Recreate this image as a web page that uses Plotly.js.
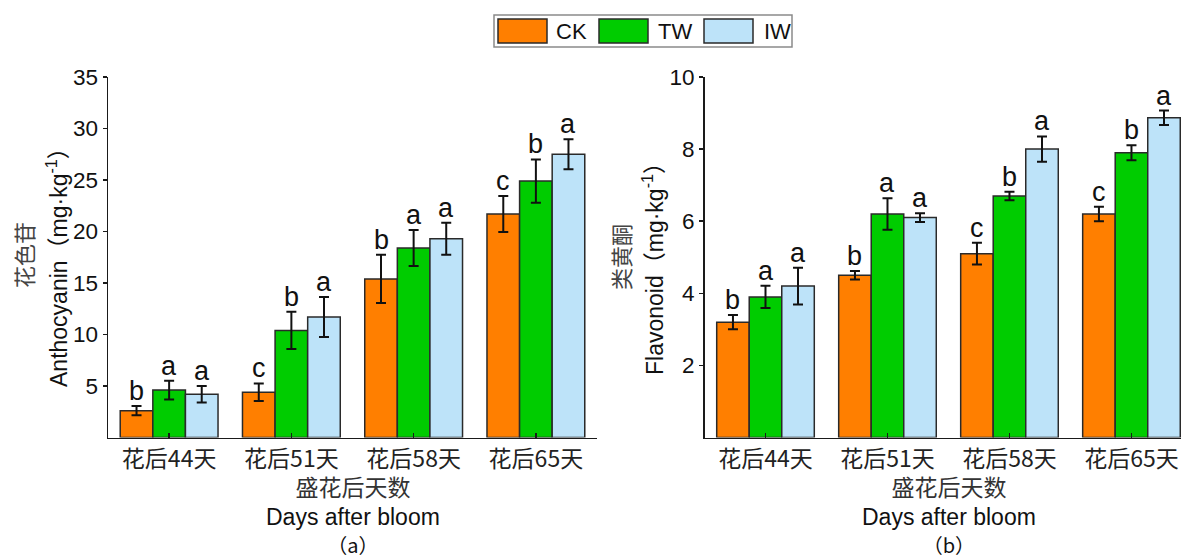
<!DOCTYPE html>
<html>
<head>
<meta charset="utf-8">
<script src="https://cdn.plot.ly/plotly-3.0.1.min.js"></script>
<style>html,body{margin:0;padding:0;background:#fff;}#chart{width:1181px;height:560px;}</style>
</head>
<body>
<div id="chart"></div>
<script>
// ---- data ----
const categories = ['花后44天', '花后51天', '花后58天', '花后65天'];
const seriesNames = ['CK', 'TW', 'IW'];

const anthoCK = [2.6, 4.4, 15.4, 21.7];
const anthoTW = [4.6, 10.4, 18.4, 24.9];
const anthoIW = [4.2, 11.7, 19.3, 27.5];
const anthoErrCK = [0.45, 0.85, 2.35, 1.75];
const anthoErrTW = [0.9, 1.8, 1.75, 2.1];
const anthoErrIW = [0.8, 1.95, 1.55, 1.45];
const anthoLetters = [['b', 'a', 'a'], ['c', 'b', 'a'], ['b', 'a', 'a'], ['c', 'b', 'a']];

const flavCK = [3.2, 4.5, 5.1, 6.2];
const flavTW = [3.9, 6.2, 6.7, 7.9];
const flavIW = [4.2, 6.1, 8.0, 8.87];
const flavErrCK = [0.2, 0.12, 0.3, 0.2];
const flavErrTW = [0.31, 0.44, 0.12, 0.21];
const flavErrIW = [0.51, 0.12, 0.35, 0.2];
const flavLetters = [['b', 'a', 'a'], ['b', 'a', 'a'], ['c', 'b', 'a'], ['c', 'b', 'a']];

const xTitleCN = '盛花后天数';
const xTitleEN = 'Days after bloom';
const panelTags = ['（a）', '（b）'];

// ---- styles ----
const colors = ['#FF7F00', '#00CC00', '#BDE3F9'];
const W = 1181, H = 560;
const px = v => v / W;
const py = v => 1 - v / H;
const latin = 'Liberation Sans, Arial, sans-serif';
const cjk = 'Liberation Sans, Noto Sans CJK SC, sans-serif';
const cjkOnly = 'Noto Sans CJK SC, sans-serif';

function makeBars(vals, errs, xa, ya) {
  return vals.map((v, j) => ({
    type: 'bar',
    name: seriesNames[j],
    x: categories,
    y: v,
    xaxis: xa, yaxis: ya,
    marker: {color: colors[j], line: {color: '#2a2a2a', width: 1.5}},
    error_y: {type: 'data', array: errs[j], visible: true, color: '#111', thickness: 2, width: 5},
    showlegend: false,
    hoverinfo: 'skip'
  }));
}

const traces = [
  ...makeBars([anthoCK, anthoTW, anthoIW], [anthoErrCK, anthoErrTW, anthoErrIW], 'x', 'y'),
  ...makeBars([flavCK, flavTW, flavIW], [flavErrCK, flavErrTW, flavErrIW], 'x2', 'y2')
];

const annotations = [];
function addLetters(vals, errs, letters, xref, yref) {
  for (let i = 0; i < categories.length; i++) {
    for (let j = 0; j < 3; j++) {
      annotations.push({
        xref: xref, yref: yref,
        x: i + (j - 1) * 0.8 / 3,
        y: vals[j][i] + errs[j][i],
        text: letters[i][j],
        showarrow: false,
        yanchor: 'bottom',
        yshift: -2,
        font: {family: latin, size: 27, color: '#111'}
      });
    }
  }
}
addLetters([anthoCK, anthoTW, anthoIW], [anthoErrCK, anthoErrTW, anthoErrIW], anthoLetters, 'x', 'y');
addLetters([flavCK, flavTW, flavIW], [flavErrCK, flavErrTW, flavErrIW], flavLetters, 'x2', 'y2');

function textAt(x, y, text, size, family, extra) {
  annotations.push(Object.assign({
    xref: 'paper', yref: 'paper', x: px(x), y: py(y), text: text, showarrow: false,
    xanchor: 'center', yanchor: 'middle',
    font: {family: family, size: size, color: '#111'}
  }, extra || {}));
}
// y titles
textAt(23, 255, '花色苷', 22, cjkOnly, {textangle: -90, font: {family: cjkOnly, size: 22, color: '#444'}});
textAt(57, 262, 'Anthocyanin（mg·kg<sup>-1</sup>）', 23, cjk, {textangle: -90});
textAt(620, 257, '类黄酮', 22, cjkOnly, {textangle: -90, font: {family: cjkOnly, size: 22, color: '#444'}});
textAt(653, 263, 'Flavonoid（mg·kg<sup>-1</sup>）', 23, cjk, {textangle: -90});
// x titles (three lines in one block)
[352.5, 948.5].forEach((cx, k) => {
  const txt = '<span style="font-family:Noto Sans CJK SC;font-size:23px;fill:#333">' + xTitleCN + '</span><br>' +
              '<span style="font-size:23px">' + xTitleEN + '</span><br>' +
              '<span style="font-family:Noto Sans CJK SC;font-size:20px">' + panelTags[k] + '</span>';
  annotations.push({
    xref: 'paper', yref: 'paper', x: px(cx), y: 0, yshift: 0,
    xanchor: 'center', yanchor: 'bottom', showarrow: false,
    text: txt, borderpad: 0,
    font: {family: latin, size: 22, color: '#111'}
  });
});

// legend (manual, large swatches)
const shapes = [{
  type: 'rect', xref: 'paper', yref: 'paper',
  x0: px(494), x1: px(792), y0: py(47), y1: py(15),
  line: {color: '#8a8a8a', width: 1.5}, fillcolor: 'rgba(0,0,0,0)'
}];
const legSw = [498, 599, 704];
const legTx = [554, 656, 762];
for (let j = 0; j < 3; j++) {
  shapes.push({
    type: 'rect', xref: 'paper', yref: 'paper',
    x0: px(legSw[j]), x1: px(legSw[j] + 49), y0: py(43), y1: py(19),
    line: {color: '#2a2a2a', width: 1.5}, fillcolor: colors[j]
  });
  textAt(legTx[j], 31, seriesNames[j], 22, latin, {xanchor: 'left'});
}

const yDom = [1 - 437.5 / H, 1 - 77 / H];
const axisCommon = {
  showgrid: false, zeroline: false, showline: true,
  linecolor: '#1a1a1a', linewidth: 1.5,
  tickcolor: '#1a1a1a', tickwidth: 1.5
};

const layout = {
  width: W, height: H,
  margin: {l: 0, r: 0, t: 0, b: 0, pad: 0},
  paper_bgcolor: '#fff', plot_bgcolor: '#fff',
  barmode: 'group', bargap: 0.2, bargroupgap: 0,
  showlegend: false,
  xaxis: Object.assign({}, axisCommon, {
    domain: [px(108), px(597)], range: [-0.5, 3.5], type: 'category',
    anchor: 'y', ticks: 'inside', ticklen: 5,
    tickfont: {family: cjkOnly, size: 23, color: '#222'}
  }),
  yaxis: Object.assign({}, axisCommon, {
    domain: yDom, range: [0, 35], anchor: 'x',
    tickvals: [5, 10, 15, 20, 25, 30, 35],
    ticks: 'outside', ticklen: 4,
    tickfont: {family: latin, size: 22.5, color: '#111'}
  }),
  xaxis2: Object.assign({}, axisCommon, {
    domain: [px(704.5), 1], range: [-0.5, 3.406], type: 'category',
    anchor: 'y2', ticks: 'inside', ticklen: 5,
    tickfont: {family: cjkOnly, size: 23, color: '#222'}
  }),
  yaxis2: Object.assign({}, axisCommon, {
    domain: yDom, range: [0, 10], anchor: 'x2',
    tickvals: [2, 4, 6, 8, 10],
    ticks: 'outside', ticklen: 4,
    tickfont: {family: latin, size: 22.5, color: '#111'}
  }),
  annotations: annotations,
  shapes: shapes
};

Plotly.newPlot('chart', traces, layout, {staticPlot: true, displayModeBar: false});
</script>
</body>
</html>
